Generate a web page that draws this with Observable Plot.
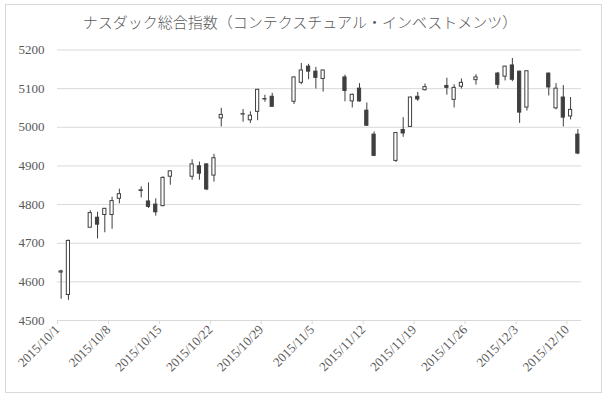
<!DOCTYPE html>
<html><head><meta charset="utf-8">
<script src="https://cdn.jsdelivr.net/npm/d3@7"></script>
<script src="https://cdn.jsdelivr.net/npm/@observablehq/plot@0.6"></script>
<style>
body{margin:0;background:#fff;}
#wrap{position:relative;width:606px;height:397px;overflow:hidden;background:#fff;}
#frame{position:absolute;left:5px;top:4px;width:595px;height:387px;border:1px solid #d9d9d9;pointer-events:none;}
#title{position:absolute;left:0;top:12px;width:600px;text-align:center;font-family:"Noto Sans CJK JP";font-weight:300;font-size:15px;color:#595959;line-height:20px;}
#chart{position:absolute;left:0;top:0;}
#chart svg text{font-family:"Liberation Serif", serif;}
</style></head><body>
<div id="wrap"><div id="chart"></div><div id="title">ナスダック総合指数（コンテクスチュアル・インベストメンツ）</div><div id="frame"></div></div>
<script>
const dates = ["2015-10-01","2015-10-02","2015-10-05","2015-10-06","2015-10-07","2015-10-08","2015-10-09","2015-10-12","2015-10-13","2015-10-14","2015-10-15","2015-10-16","2015-10-19","2015-10-20","2015-10-21","2015-10-22","2015-10-23","2015-10-26","2015-10-27","2015-10-28","2015-10-29","2015-10-30","2015-11-02","2015-11-03","2015-11-04","2015-11-05","2015-11-06","2015-11-09","2015-11-10","2015-11-11","2015-11-12","2015-11-13","2015-11-16","2015-11-17","2015-11-18","2015-11-19","2015-11-20","2015-11-23","2015-11-24","2015-11-25","2015-11-27","2015-11-30","2015-12-01","2015-12-02","2015-12-03","2015-12-04","2015-12-07","2015-12-08","2015-12-09","2015-12-10","2015-12-11"];
const open  = [4624,4566,4740,4766,4773,4773,4815,4835,4808,4800,4796,4872,4872,4899,4904,4875,5023,5033,5018,5040,5072,5079,5066,5115,5157,5144,5125,5129,5067,5100,5043,4981,4913,4993,5001,5079,5096,5107,5071,5105,5122,5139,5131,5160,5144,5051,5139,5049,5077,5028,4981];
const high  = [4630,4708,4784,4780,4790,4819,4840,4846,4856,4815,4872,4887,4916,4910,4905,4930,5049,5046,5040,5098,5083,5088,5130,5165,5163,5155,5148,5135,5086,5113,5063,4988,4986,5025,5078,5090,5112,5127,5110,5125,5136,5142,5158,5178,5145,5146,5140,5113,5108,5077,4994];
const low   = [4555,4552,4740,4711,4727,4736,4802,4817,4790,4770,4794,4850,4863,4863,4836,4858,5001,5013,5010,5017,5065,5053,5059,5110,5123,5099,5091,5066,5050,5065,5002,4924,4909,4974,5000,5067,5094,5083,5050,5099,5109,5099,5120,5118,5010,5042,5081,5045,5001,5019,4929];
const close = [4627,4706,4778,4748,4789,4809,4827,4837,4794,4780,4869,4886,4904,4880,4839,4920,5032,5034,5030,5097,5073,5053,5129,5147,5144,5128,5147,5094,5084,5067,5004,4926,4985,4984,5077,5072,5104,5102,5102,5115,5129,5110,5157,5123,5038,5145,5103,5100,5025,5045,4932];
const yTicks = [4500,4600,4700,4800,4900,5000,5100,5200];
const xTickDates = ["2015-10-01","2015-10-08","2015-10-15","2015-10-22","2015-10-29","2015-11-05","2015-11-12","2015-11-19","2015-11-26","2015-12-03","2015-12-10"];
const xDomain = ["2015-10-01","2015-12-12"];

const DAY = 864e5;
const parse = s => new Date(s + "T00:00:00Z");
const data = dates.map((d, i) => ({
  date: parse(d), open: open[i], high: high[i], low: low[i], close: close[i]
}));
const mid = d => new Date(+d.date + DAY / 2);
const bx1 = d => new Date(+d.date + DAY * 0.28);
const bx2 = d => new Date(+d.date + DAY * 0.72);
const fmt = d => `${d.getUTCFullYear()}/${d.getUTCMonth() + 1}/${d.getUTCDate()}`;
const candle = "#3f3f3f";
const serif = "'Liberation Serif', serif";

const chart = Plot.plot({
  width: 606,
  height: 397,
  marginLeft: 57,
  marginRight: 25,
  marginTop: 49.5,
  marginBottom: 77,
  style: {fontFamily: serif, fontSize: "13px", color: "#595959", background: "transparent"},
  x: {type: "utc", domain: xDomain.map(parse)},
  y: {domain: [4500, 5200]},
  marks: [
    Plot.gridY(yTicks.slice(1), {stroke: "#d9d9d9", strokeOpacity: 1}),
    Plot.ruleY([4500], {stroke: "#d9d9d9", strokeOpacity: 1}),
    Plot.axisY(yTicks, {tickSize: 0, tickPadding: 13, label: null, fill: "#595959", tickFormat: d => String(d), fontFamily: serif, fontSize: 13}),
    Plot.axisX(xTickDates.map(parse), {tickSize: 4, tickPadding: 3, tickRotate: -45, tickFormat: fmt, label: null, stroke: "#d9d9d9", fill: "#595959", fontFamily: serif, fontSize: 13}),
    Plot.ruleX(data, {x: mid, y1: "low", y2: "high", stroke: candle, strokeWidth: 1}),
    Plot.rect(data.filter(d => d.close >= d.open), {x1: bx1, x2: bx2, y1: "open", y2: "close", fill: "white", stroke: candle, strokeWidth: 1}),
    Plot.rect(data.filter(d => d.close < d.open), {x1: bx1, x2: bx2, y1: "open", y2: "close", fill: candle, stroke: candle, strokeWidth: 1})
  ]
});
document.getElementById("chart").appendChild(chart);
</script>
</body></html>
